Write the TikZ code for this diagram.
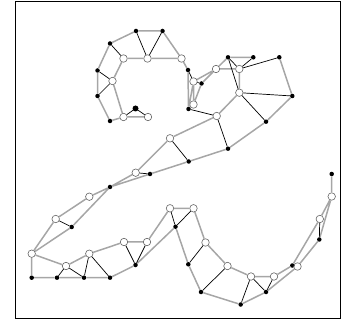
\documentclass[tikz,border=0pt]{standalone}
\usetikzlibrary{positioning}
\begin{document}
\begin{tikzpicture}[x=1pt, y=-1pt,
  wnode/.style={circle, draw=black!60, fill=white, inner sep=0pt, minimum size=7.5pt, line width=0.6pt},
  bnode/.style={circle, fill=black, inner sep=0pt, minimum size=4.5pt},
  link/.style={draw=black!35, line width=1.5pt},
  rung/.style={draw=black, line width=0.7pt},
]
  \useasboundingbox (0,0) rectangle (342,336);
  \draw[line width=1.6pt] (15.5,1.5) rectangle (340.5,318.5);

  % upper arc
  \node[bnode] (b1) at (136,31) {};
  \node[bnode] (b2) at (162.5,31) {};
  \node[bnode] (b3) at (110,43.5) {};
  \node[wnode] (w1) at (123.5,58.5) {};
  \node[wnode] (w2) at (147.5,58.5) {};
  \node[wnode] (w3) at (181.5,58.5) {};
  \node[bnode] (b4) at (97.5,70.5) {};
  \node[wnode] (w4) at (112.5,81) {};
  \node[bnode] (b5) at (97.5,96) {};
  \node[bnode] (b6) at (110,121) {};
  \node[wnode] (w5) at (123.5,117) {};
  \node[bnode, minimum size=6pt] (b7) at (135.5,108.5) {};
  \node[wnode] (w6) at (148,117) {};
  \node[bnode] (b8) at (188,70) {};
  \node[wnode] (w7) at (193.5,81.5) {};
  \node[bnode] (b9) at (201.5,83.5) {};
  \node[wnode] (w8) at (193.5,104.5) {};
  \node[bnode] (b10) at (188.5,109) {};
  % right loop
  \node[wnode] (w9) at (216,69) {};
  \node[bnode] (b11) at (228,57.3) {};
  \node[bnode] (b12) at (253.3,57.3) {};
  \node[bnode] (b13) at (279.3,57.3) {};
  \node[wnode] (w10) at (239.3,69) {};
  \node[wnode] (w11) at (239.3,92.7) {};
  \node[bnode] (b14) at (292.3,96) {};
  \node[wnode] (w12) at (216.7,116) {};
  \node[bnode] (b15) at (266,121.7) {};
  \node[bnode] (b16) at (228,148.7) {};
  % diagonal
  \node[wnode] (w13) at (170,138.3) {};
  \node[bnode] (b17) at (188.7,161.5) {};
  \node[wnode] (w14) at (135.7,172.7) {};
  \node[bnode] (b18) at (150,174) {};
  \node[bnode] (b19) at (110,187) {};
  \node[wnode] (w15) at (89.3,196.7) {};
  \node[wnode] (w16) at (55.7,219) {};
  \node[bnode] (b20) at (71.7,227) {};
  \node[wnode] (w17) at (31.7,253.7) {};
  % base
  \node[bnode] (b21) at (31.7,277.7) {};
  \node[wnode] (w18) at (66,266) {};
  \node[bnode] (b22) at (57,277.7) {};
  \node[wnode] (w19) at (89.3,253.7) {};
  \node[bnode] (b23) at (84,277.7) {};
  \node[bnode] (b24) at (110,277.7) {};
  \node[wnode] (w20) at (124,242) {};
  \node[wnode] (w21) at (147,242) {};
  \node[bnode] (b25) at (135.5,265) {};
  \node[wnode] (w22) at (170,208.3) {};
  \node[wnode] (w23) at (193.5,208.3) {};
  \node[bnode] (b26) at (175.5,226.7) {};
  \node[wnode] (w24) at (205.5,242.5) {};
  \node[bnode] (b27) at (188.3,264.3) {};
  \node[wnode] (w25) at (227.5,266) {};
  \node[bnode] (b28) at (201,292) {};
  \node[wnode] (w26) at (251,276.5) {};
  \node[wnode] (w27) at (274,276.5) {};
  \node[bnode] (b29) at (240.7,304.5) {};
  \node[bnode] (b30) at (266,292) {};
  \node[bnode] (b31) at (292.3,265.5) {};
  \node[wnode] (w28) at (297.5,266.5) {};
  \node[bnode] (b32) at (319.3,239.5) {};
  \node[wnode] (w29) at (319.8,219) {};
  \node[wnode] (w30) at (331.7,196.5) {};
  \node[bnode] (b33) at (331.7,174) {};

  \path[link] (b3) -- (b1) -- (b2) -- (w3) (w1) -- (w2) -- (w3)
    (b3) -- (b4) -- (b5) -- (b6) -- (w5) -- (w6) (w1) -- (w4) -- (w5)
    (w3) -- (b8) -- (b10) (w7) -- (w8) -- (b10) (b9) -- (w8) (w7) -- (b10)
    (w7) -- (w9) (b9) -- (w9) (w9) -- (w10) (w9) -- (b11) -- (b12)
    (w10) -- (w11) -- (w12) -- (w13) -- (w14) -- (b19)
    (b13) -- (b14) -- (b15) -- (b16) -- (b17) -- (b18) -- (b19)
    (b19) -- (w15) -- (w16) -- (w17) (w17) -- (b20) -- (b19)
    (w17) -- (b21) -- (b22) -- (b23) -- (b24) -- (b25) -- (b26) -- (b27) -- (b28) -- (b29) -- (b30) -- (w28)
    (w17) -- (w18) -- (w19) -- (w20) -- (w21) -- (w22) -- (w23) -- (w24) -- (w25) -- (w26) -- (w27) -- (b31)
    (w28) -- (b32) -- (w30) (b31) -- (w29) -- (w30) -- (b33);
  \path[rung] (b1) -- (w2) -- (b2) (b3) -- (w1) (b4) -- (w4) -- (b5)
    (w5) -- (b7) -- (w6) (b8) -- (w7) -- (b9)
    (b11) -- (w10) -- (b12) (w10) -- (b13) (b11) -- (w11) -- (b14) (w11) -- (b15)
    (b10) -- (w12) -- (b16) (w13) -- (b17) (w14) -- (b18) (w16) -- (b20)
    (b22) -- (w18) -- (b23) -- (w19) -- (b24) (w20) -- (b25) -- (w21)
    (w22) -- (b26) -- (w23) (w24) -- (b27) (w25) -- (b28)
    (b29) -- (w26) -- (b30) -- (w27) (b31) -- (w28) (w29) -- (b32);
\end{tikzpicture}
\end{document}
